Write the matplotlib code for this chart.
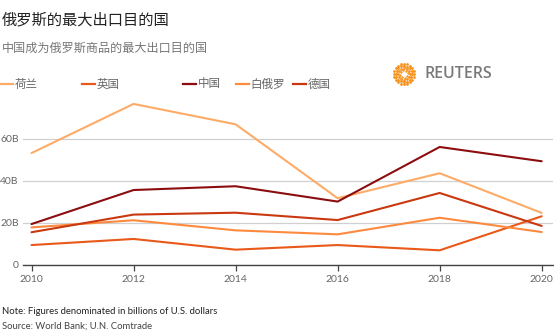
import matplotlib
matplotlib.use("Agg")
import matplotlib.pyplot as plt
import numpy as np
from matplotlib.lines import Line2D

plt.rcParams['font.family'] = ['Noto Sans CJK SC', 'DejaVu Sans']

years = [2010, 2012, 2014, 2016, 2018, 2020]
series_names = ["荷兰", "英国", "中国", "白俄罗", "德国"]
netherlands = [53.3, 76.7, 67.0, 31.8, 43.7, 24.8]
uk = [9.5, 12.4, 7.3, 9.5, 7.0, 23.2]
china = [19.5, 35.7, 37.5, 30.2, 56.2, 49.4]
belarus = [17.9, 21.3, 16.5, 14.6, 22.5, 15.7]
germany = [15.6, 24.0, 24.9, 21.4, 34.3, 18.6]
colors = ["#fdab66", "#e8591a", "#8c0d0d", "#fd8a3e", "#c9380f"]
yticks = [0, 20, 40, 60]
ytick_labels = ["0", "20B", "40B", "60B"]

W, H = 554, 336
fig = plt.figure(figsize=(W / 100, H / 100), dpi=100)

ax = fig.add_axes([23 / W, 1 - 265 / H, 530 / W, 165 / H])
all_series = [netherlands, uk, china, belarus, germany]
for vals, c in zip(all_series, colors):
    ax.plot(years, vals, color=c, lw=1.5, solid_capstyle='round', zorder=3)

ax.set_xlim(2010 - 8.5 / 51.02, 2020 + 11.3 / 51.02)
ax.set_ylim(0, 165 / 2.1 / 1.0 / 1.0 * 1.0)
ax.set_ylim(0, 78.57)
ax.set_yticks(yticks)
ax.set_yticklabels(ytick_labels)
ax.set_xticks(years)
ax.set_xticklabels([str(y) for y in years])
for s in ['top', 'right', 'left']:
    ax.spines[s].set_visible(False)
ax.spines['bottom'].set_color('#444444')
ax.spines['bottom'].set_linewidth(1.0)
ax.grid(axis='y', color='#d0d0d0', lw=0.9, zorder=0)
ax.tick_params(axis='y', length=0, pad=3, labelsize=7.5, labelcolor='#666666')
ax.tick_params(axis='x', length=4, width=0.9, color='#444444', pad=3,
               labelsize=7.5, labelcolor='#666666')
for lab in ax.get_yticklabels() + ax.get_xticklabels():
    lab.set_family(['Lato', 'DejaVu Sans'])

# titles
fig.text(2 / W, 1 - 20 / H, "俄罗斯的最大出口目的国", fontsize=11, color='#222222', va='center', ha='left')
fig.text(2 / W, 1 - 48 / H, "中国成为俄罗斯商品的最大出口目的国", fontsize=8.7, color='#777777', va='center', ha='left')

# legend
leg_x = [0, 82, 183, 236, 293]
ly = 1 - 84 / H
for x0, name, c in zip(leg_x, series_names, colors):
    fig.add_artist(Line2D([x0 / W, (x0 + 13) / W], [ly, ly], color=c, lw=1.6, transform=fig.transFigure))
    fig.text((x0 + 14.5) / W, ly, name, fontsize=8.3, color='#666666', va='center', ha='left')

# Reuters logo
lax = fig.add_axes([392 / W, 1 - 86 / H, 24 / W, 24 / H])
lax.set_xlim(-1.1, 1.1)
lax.set_ylim(-1.1, 1.1)
lax.set_aspect('equal')
lax.axis('off')
for r, n, s in [(0.35, 8, 3), (0.55, 12, 4), (0.75, 16, 4.5), (0.95, 20, 4)]:
    th = np.linspace(0, 2 * np.pi, n, endpoint=False) + r
    lax.scatter(r * np.cos(th), r * np.sin(th), s=s, color='#f7931e', lw=0)
fig.text(424 / W, 1 - 74 / H, "REUTERS", fontsize=11.5, color='#7a7a7a', va='center', ha='left',
         family=['Open Sans', 'DejaVu Sans'], fontweight='semibold')

# notes
fig.text(2 / W, 1 - 311 / H, "Note: Figures denominated in billions of U.S. dollars", fontsize=6.8,
         color='#222222', va='center', ha='left', family=['Lato', 'DejaVu Sans'])
fig.text(2 / W, 1 - 326 / H, "Source: World Bank; U.N. Comtrade", fontsize=6.8,
         color='#444444', va='center', ha='left', family=['Lato', 'DejaVu Sans'])

fig.savefig("out.png", dpi=100, facecolor='white')
